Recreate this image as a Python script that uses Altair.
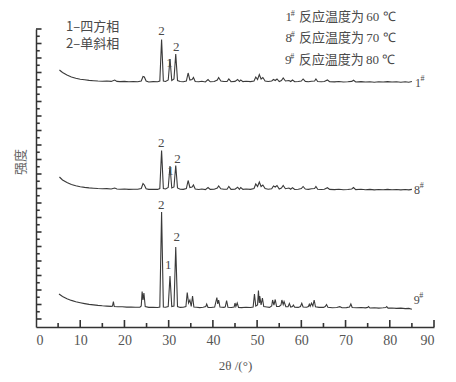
import altair as alt
import pandas as pd

# ---------------- data (2θ in degrees, intensity in arbitrary units) ----------------
x1 = [5.3, 6, 7, 8, 9, 10, 11, 12, 13, 14, 15, 16, 17, 17.8, 18.3, 19, 20, 21, 22, 23,
      23.8, 24.2, 24.5, 24.9, 25.5, 26.5, 27.5, 28.0, 28.4, 28.8, 29.3, 29.9, 30.3, 30.7,
      31.2, 31.6, 32.0, 32.6, 33.3, 34.0, 34.4, 34.8, 35.3, 35.6, 36.0, 36.8, 37.5, 38.3,
      38.9, 39.4, 40.3, 41.0, 41.3, 41.8, 42.5, 43.2, 43.6, 44.1, 45, 45.6, 46, 46.3, 46.8,
      47.5, 48.5, 49.3, 49.7, 50.1, 50.5, 50.9, 51.3, 51.8, 52.5, 53.3, 53.7, 54.1, 54.5,
      55, 55.5, 55.9, 56.4, 57.2, 57.6, 58, 58.5, 59.3, 60, 60.4, 60.9, 61.6, 62.3, 63.0,
      63.3, 63.7, 64.5, 65.2, 65.9, 66.4, 67.5, 68.5, 69.5, 70.5, 71.4, 71.8, 72.3, 73.5,
      74.5, 75.5, 76.5, 77.5, 78.5, 79.5, 80.5, 81.5, 82.5, 83.5, 84.3, 85]
y1 = [257, 254.5, 252, 250, 248.8, 247.8, 247.2, 246.6, 246.3, 246, 245.8, 246, 245.6, 247,
      245.6, 245.4, 245.6, 245.2, 245.5, 245.3, 246, 250.5, 250, 246, 245, 245.4, 245.2,
      246, 287.5, 246, 245.5, 247, 268, 246.5, 248, 273, 246.5, 245.5, 245.2, 246, 254,
      247, 247.5, 249.5, 245.5, 245.2, 245.8, 245, 247.5, 245.2, 245.5, 247, 249.5, 246,
      245.5, 245.5, 248, 245.3, 245.6, 247.5, 245.5, 247, 245.4, 245.8, 245.4, 246, 250,
      247.5, 252.5, 248, 249.5, 246, 245.5, 246, 247.5, 246.5, 248, 245.5, 246.5, 249, 246,
      246.5, 245.5, 247, 245.2, 245.5, 246, 248, 245.6, 245.3, 245.8, 246, 248, 245.5,
      245.2, 245.5, 247, 245.3, 245.1, 245.5, 245, 245.2, 245.6, 246.8, 245, 245.4, 245,
      245.3, 244.8, 245.2, 245, 245.4, 245, 245.2, 244.8, 245.3, 244.8, 245.5]

x8 = x1
y8 = [150, 147, 144.5, 142.5, 141.3, 140.3, 139.6, 139.1, 138.8, 138.5, 138.3, 138.4, 138,
      139, 138, 137.8, 138, 137.6, 137.8, 137.7, 138.5, 143.5, 142, 138.3, 137.6, 137.8,
      137.6, 138.5, 176.5, 138.5, 138, 139.5, 161, 139, 140, 161.5, 139, 137.8, 137.6,
      138.5, 146.5, 139.5, 140, 142, 138, 137.5, 138, 137.4, 139.5, 137.6, 137.8, 139, 141,
      138.2, 137.7, 137.8, 140.5, 137.6, 137.8, 139.8, 137.7, 139.5, 137.6, 138, 137.6,
      138.5, 143, 140.5, 145, 140.5, 142, 138.4, 137.8, 138.3, 141, 140, 141.5, 138, 139,
      141.5, 138.3, 139, 137.8, 139.3, 137.5, 137.8, 138.5, 140.5, 138, 137.6, 138.2,
      138.5, 140.5, 137.8, 137.5, 137.8, 139.3, 137.6, 137.4, 137.8, 137.3, 137.5, 138,
      139.5, 137.4, 137.7, 137.3, 137.6, 137.1, 137.5, 137.2, 137.6, 137.2, 137.5, 137.1,
      137.5, 137.1, 137.6]

x9 = [5.2, 6, 7, 8, 9, 10, 11, 12, 13, 14, 15, 16, 17, 17.3, 17.5, 17.7, 18.5, 19.5, 20.5,
      21.5, 22.5, 23.5, 23.8, 24.0, 24.2, 24.4, 24.7, 25.5, 26.5, 27.5, 28.0, 28.4, 28.8,
      29.3, 29.9, 30.3, 30.7, 31.2, 31.6, 32.0, 32.6, 33.3, 33.9, 34.2, 34.5, 34.8, 35.1,
      35.4, 35.7, 36.3, 37.0, 37.8, 38.4, 38.6, 38.9, 39.6, 40.4, 40.9, 41.1, 41.3, 41.6,
      42.5, 42.8, 43.1, 43.4, 44.2, 44.8, 45.0, 45.2, 45.5, 45.8, 46.5, 47.5, 48.5, 49.1,
      49.4, 49.7, 50.1, 50.3, 50.5, 50.6, 50.9, 51.2, 51.5, 52.2, 52.8, 53.3, 53.5, 53.8,
      54.1, 54.4, 55.0, 55.4, 55.6, 55.9, 56.1, 56.5, 57.0, 57.3, 57.6, 58.0, 58.2, 58.5,
      59.3, 59.8, 60.1, 60.4, 61.2, 61.6, 61.8, 62.0, 62.3, 62.6, 62.9, 63.2, 64.0, 65.0,
      65.4, 65.7, 66.0, 67.0, 68.0, 68.7, 69.2, 70.2, 70.9, 71.2, 71.5, 72.5, 73.5, 74.5,
      75.0, 75.2, 75.5, 76.5, 77.5, 78.5, 79.1, 79.3, 79.6, 80.5, 81.5, 82.5, 83.5, 84.3, 85]
y9 = [33, 30.5, 28.3, 26.6, 25.3, 24.3, 23.4, 22.6, 22.1, 21.6, 21.2, 20.9, 20.6, 21, 25.5,
      20.5, 20.2, 20.3, 19.9, 20, 19.7, 19.9, 21, 35.5, 27, 34, 20.5, 19.6, 19.8, 19.5, 20,
      115, 20, 19.8, 20.5, 51, 20.5, 21, 80, 20.5, 19.6, 19.8, 20.5, 34.5, 24, 27, 20.5, 31,
      20, 19.7, 19.4, 19.8, 20.5, 23, 19.6, 19.5, 20, 29.5, 23, 27, 20, 19.6, 20.2, 26.5,
      19.8, 19.5, 20, 24, 20.5, 24, 19.6, 19.4, 19.7, 19.5, 20, 33, 21, 22, 36.5, 24, 31, 22,
      29, 20.5, 20, 19.6, 21, 27, 22, 27.5, 20.5, 20.5, 22, 27, 22.5, 25.5, 20.3, 20.2, 23.5,
      20, 20.5, 22, 19.8, 19.6, 20.5, 23.8, 20, 19.8, 20.5, 22.8, 20.6, 23.8, 21, 27, 20.2,
      19.6, 19.6, 20.5, 22.5, 19.8, 19.3, 19.5, 20.3, 19.3, 19.4, 20, 23, 19.5, 19.2, 19.5,
      19.1, 19.6, 20.5, 19, 19.3, 18.9, 19.2, 19.5, 20.5, 18.9, 19, 18.6, 18.9, 18.4, 18.6,
      17.8]

# peak phase labels
peak_text = ["2", "1", "2", "2", "1", "2", "2", "1", "2"]
peak_x = [28.4, 30.2, 31.7, 28.3, 30.4, 32.0, 28.3, 29.9, 31.8]
peak_y = [296, 264, 280, 184, 156, 168, 122, 62, 90]

# series end labels
end_num = ["1", "8", "9"]
end_x = [85.7, 85.5, 85.4]
end_y = [244, 137, 27]

# legend (top-left) and conditions (top-right)
legend_text = ["1–四方相", "2–单斜相"]
legend_x = [6.8, 6.8]
legend_y = [300, 283]

cond_num = ["1", "8", "9"]
cond_text = ["反应温度为", "反应温度为", "反应温度为"]
cond_temp = ["60 ℃", "70 ℃", "80 ℃"]
cond_x = [56.4, 56.4, 56.3]
cond_y = [310.5, 289.5, 267.5]

x_major = [10, 20, 30, 40, 50, 60, 70, 80, 90]
x_minor = [5, 15, 25, 35, 45, 55, 65, 75, 85]
x_labels = [0, 10, 20, 30, 40, 50, 60, 70, 80, 90]
y_major = [298 - 14.5 * k for k in range(21)]
y_minor = [290.75 - 14.5 * k for k in range(20)]

# ---------------- tables ----------------
traces = pd.concat([
    pd.DataFrame({"x": x1, "y": y1, "s": "1#", "o": range(len(x1))}),
    pd.DataFrame({"x": x8, "y": y8, "s": "8#", "o": range(len(x8))}),
    pd.DataFrame({"x": x9, "y": y9, "s": "9#", "o": range(len(x9))}),
], ignore_index=True)
peaks = pd.DataFrame({"x": peak_x, "y": peak_y, "t": peak_text})
ends = pd.DataFrame({"x": end_x, "y": end_y, "t": end_num})
ends_sup = pd.DataFrame({"x": [v + 1.25 for v in end_x], "y": [v + 4 for v in end_y], "t": ["#"] * 3})
leg = pd.DataFrame({"x": legend_x, "y": legend_y, "t": legend_text})
cond_n = pd.DataFrame({"x": cond_x, "y": cond_y, "t": cond_num})
cond_s = pd.DataFrame({"x": [v + 1.2 for v in cond_x], "y": [v + 3 for v in cond_y], "t": ["#"] * 3})
cond_t = pd.DataFrame({"x": [v + 3.1 for v in cond_x], "y": cond_y, "t": cond_text})
cond_v = pd.DataFrame({"x": [v + 18.3 for v in cond_x], "y": cond_y, "t": cond_temp})
xmaj = pd.DataFrame({"x": [float(v) for v in x_major], "y": [0.0] * len(x_major),
                     "y2": [7.0] * len(x_major)})
xmin = pd.DataFrame({"x": [float(v) for v in x_minor], "y": [0.0] * len(x_minor),
                     "y2": [4.0] * len(x_minor)})
ymaj = pd.DataFrame({"x": [0.0] * len(y_major), "x2": [1.25] * len(y_major), "y": y_major})
ymin = pd.DataFrame({"x": [0.0] * len(y_minor), "x2": [0.85] * len(y_minor), "y": y_minor})
ylab = pd.DataFrame({"x": [-3.3], "y": [165], "t": ["强度"]})

SERIF = "Liberation Serif"
CJK = "Noto Sans CJK SC"
GREY = "#4a4a4a"
AX = "#333333"

xscale = alt.Scale(domain=[0, 90], nice=False, zero=False)
yscale = alt.Scale(domain=[0, 298], nice=False, zero=False)
xaxis = alt.Axis(values=x_labels, ticks=False, grid=False, labelFont=SERIF, labelFontSize=14,
                 labelColor="#555", labelPadding=6, domainColor=AX, domainWidth=1.5,
                 title="2θ /(°)", titleFont=SERIF, titleFontSize=13, titleFontWeight="normal",
                 titleColor="#555", titlePadding=12)
yaxis = alt.Axis(labels=False, ticks=False, grid=False, title=None, domainColor=AX,
                 domainWidth=1.5)

lines = alt.Chart(traces).mark_line(color="#3a3a3a", strokeWidth=1.1).encode(
    x=alt.X("x:Q", scale=xscale, axis=xaxis),
    y=alt.Y("y:Q", scale=yscale, axis=yaxis),
    detail="s:N", order="o:Q")


def PX():
    return alt.X("x:Q", scale=xscale)


def PY():
    return alt.Y("y:Q", scale=yscale)


def vrule(df):
    return alt.Chart(df).mark_rule(color=AX, strokeWidth=1.6).encode(x=PX(), y=PY(), y2="y2")


def hrule(df):
    return alt.Chart(df).mark_rule(color=AX, strokeWidth=1.6).encode(x=PX(), x2="x2", y=PY())


def txt(df, size, font=SERIF, align="center", baseline="middle", angle=0, color=GREY):
    return alt.Chart(df).mark_text(fontSize=size, font=font, align=align, baseline=baseline,
                                   angle=angle, color=color).encode(x=PX(), y=PY(), text="t:N")


chart = alt.layer(
    lines,
    vrule(xmaj), vrule(xmin), hrule(ymaj), hrule(ymin),
    txt(peaks, 13),
    txt(ends, 12, align="left"),
    txt(ends_sup, 8, align="left"),
    txt(leg, 13, font=CJK, align="left"),
    txt(cond_n, 13, align="left"),
    txt(cond_s, 8, align="left"),
    txt(cond_t, 13, font=CJK, align="left"),
    txt(cond_v, 13, align="left"),
    txt(ylab, 13, font=CJK, angle=270, color="#666"),
).properties(
    width=398, height=298,
    autosize=alt.AutoSizeParams(type="none"),
    padding={"left": 28, "top": 21, "right": 10, "bottom": 46},
    background="white",
).configure_view(stroke=None)

chart.save("out.html", embed_options={"renderer": "svg", "actions": False})
